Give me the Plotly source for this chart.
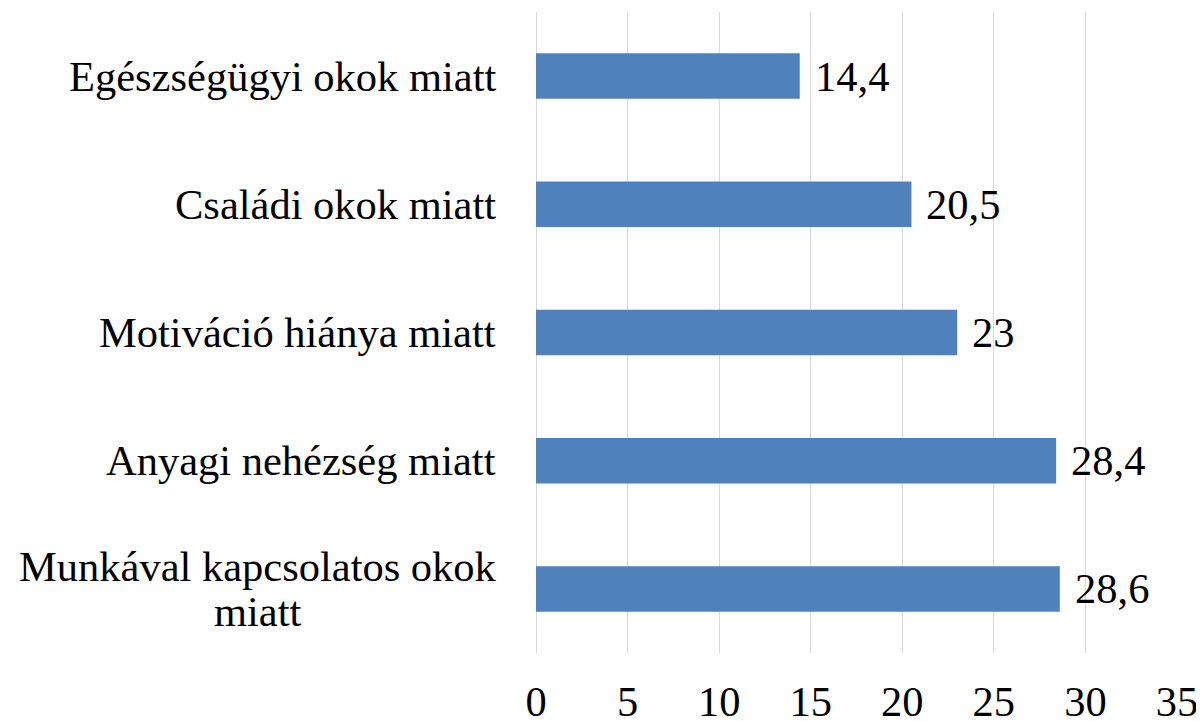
import plotly.graph_objects as go

categories = ["Egészségügyi okok miatt", "Családi okok miatt", "Motiváció hiánya miatt",
              "Anyagi nehézség miatt", "Munkával kapcsolatos okok\nmiatt"]
values = [14.4, 20.5, 23, 28.4, 28.6]
labels = ["14,4", "20,5", "23", "28,4", "28,6"]
tick_vals = [0, 5, 10, 15, 20, 25, 30, 35]

FONT = "Liberation Serif, Times New Roman, serif"
FS = 42.5
BAR = "#4F81BD"
GRID = "#D9D9D9"

ids = list(range(len(categories)))

fig = go.Figure(go.Bar(
    x=values, y=ids, orientation="h",
    marker=dict(color=BAR, line=dict(width=0)),
    width=0.355, hoverinfo="skip",
))

annotations = []
for i, (cat, v, lab) in enumerate(zip(categories, values, labels)):
    annotations.append(dict(x=v, y=i, xref="x", yref="y", text=lab, showarrow=False,
                            xanchor="left", yanchor="middle", xshift=13,
                            font=dict(family=FONT, size=FS, color="#000000")))
    lines = cat.split("\n")
    n = len(lines)
    lh = 45
    for j, ln in enumerate(lines):
        annotations.append(dict(x=0, y=i, xref="paper", yref="y", text=ln, showarrow=False,
                                xanchor="center" if n > 1 else "right", yanchor="middle",
                                xshift=(-278 if n > 1 else -38),
                                yshift=-((j - (n - 1) / 2) * lh),
                                font=dict(family=FONT, size=FS, color="#000000")))

fig.update_layout(
    width=1204, height=721,
    margin=dict(l=528, r=35, t=4, b=76),
    paper_bgcolor="white", plot_bgcolor="white",
    showlegend=False,
    annotations=annotations,
    xaxis=dict(range=[0, 35], tickvals=tick_vals, ticktext=[str(t) for t in tick_vals],
               showgrid=True, gridcolor=GRID, gridwidth=1,
               zeroline=True, zerolinecolor=GRID, zerolinewidth=1,
               showline=False, ticks="outside", ticklen=11, tickcolor="rgba(0,0,0,0)",
               tickfont=dict(family=FONT, size=FS, color="#000000"), fixedrange=True,
               automargin=False),
    yaxis=dict(tickvals=ids, showticklabels=False, autorange=False, range=[4.5, -0.5],
               showgrid=False, zeroline=False, showline=False, fixedrange=True,
               automargin=False),
)

fig.write_html("out.html")
